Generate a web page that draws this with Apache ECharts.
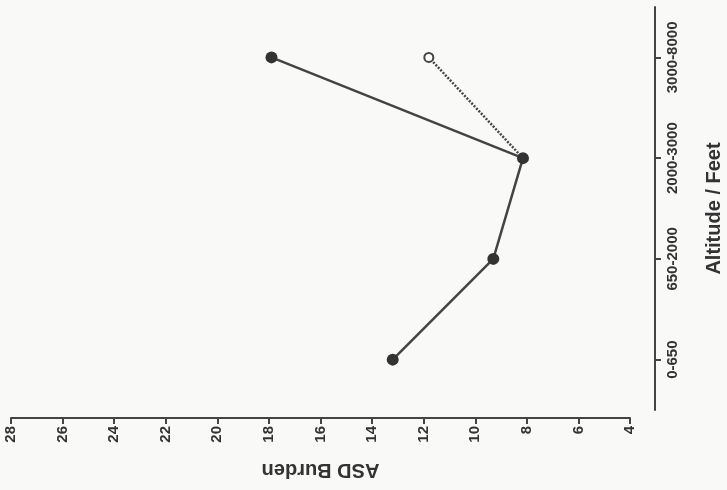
<!DOCTYPE html>
<html><head><meta charset="utf-8">
<script src="https://cdn.jsdelivr.net/npm/echarts@6/dist/echarts.min.js"></script>
<style>html,body{margin:0;padding:0;background:#f9f9f8}#c{width:727px;height:490px}</style>
</head><body><div id="c"></div>
<script>
const categories = ['0-650', '650-2000', '2000-3000', '3000-8000'];
const burdenSolid = [13.2, 9.3, 8.15, 17.9];
const burdenDotted = [null, null, 8.15, 11.8];
const valueTicks = {min: 4, max: 28, interval: 2};

const chart = echarts.init(document.getElementById('c'));
const font = 'Liberation Sans, Arial, sans-serif';
chart.setOption({
  backgroundColor: '#f9f9f8',
  animation: false,
  grid: {left: 11, right: 97, top: 7, bottom: 80, containLabel: false, outerBoundsMode: 'none'},
  xAxis: {
    type: 'value', inverse: true,
    min: valueTicks.min, max: valueTicks.max, interval: valueTicks.interval,
    offset: 8,
    name: 'ASD Burden', nameLocation: 'middle', nameRotate: 180, nameGap: 42,
    nameTextStyle: {fontFamily: font, fontWeight: 'bold', fontSize: 20, color: '#333'},
    axisLine: {show: true, lineStyle: {color: '#444', width: 2}},
    axisTick: {show: true, length: 6, lineStyle: {color: '#444', width: 2}},
    axisLabel: {rotate: 90, margin: 8, fontFamily: font, fontWeight: 'bold', fontSize: 15, color: '#333', showMinLabel: true, showMaxLabel: true},
    splitLine: {show: false}
  },
  yAxis: {
    type: 'category', data: categories, position: 'right', offset: 25,
    boundaryGap: true,
    name: 'Altitude / Feet', nameLocation: 'middle', nameRotate: 90, nameGap: 49,
    nameTextStyle: {fontFamily: font, fontWeight: 'bold', fontSize: 20, color: '#333'},
    axisLine: {show: true, lineStyle: {color: '#444', width: 2}},
    axisTick: {show: true, alignWithLabel: true, length: 6, lineStyle: {color: '#444', width: 2}},
    axisLabel: {rotate: 90, margin: 10, fontFamily: font, fontWeight: 'bold', fontSize: 15, color: '#333'},
    splitLine: {show: false}
  },
  series: [
    {
      type: 'line', data: burdenDotted.map((v, i) => i === 2 ? {value: v, symbol: 'none'} : v),
      symbol: 'emptyCircle', symbolSize: 9, connectNulls: false,
      lineStyle: {color: '#444', width: 2.5, type: [2, 1.5]},
      itemStyle: {color: '#444', borderWidth: 2},
      z: 2
    },
    {
      type: 'line', data: burdenSolid,
      symbol: 'circle', symbolSize: 12,
      lineStyle: {color: '#444', width: 2.5},
      itemStyle: {color: '#333'},
      z: 3
    }
  ]
});
</script></body></html>
